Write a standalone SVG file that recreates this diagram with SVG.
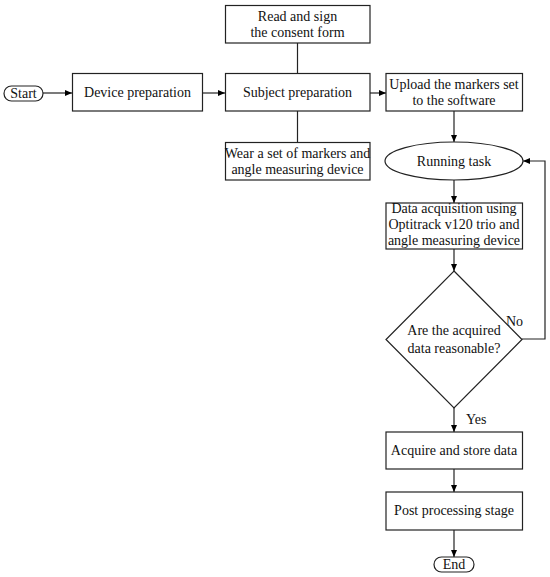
<svg xmlns="http://www.w3.org/2000/svg" width="550" height="577" viewBox="0 0 550 577">
<defs>
<marker id="ah" markerWidth="8" markerHeight="8" refX="7" refY="4" orient="auto" markerUnits="userSpaceOnUse">
<path d="M0,1 L7,4 L0,7 Z" fill="#000"/>
</marker>
<style>
.b{fill:#fff;stroke:#222;stroke-width:1.2}
.t{font-size:14px;fill:#111;text-anchor:middle}
.l{font-size:14px;fill:#111}
.c{fill:none;stroke:#222;stroke-width:1.2}
</style>
</defs>
<rect width="550" height="577" fill="#fff"/>
<g font-family="'Liberation Serif', serif">
<g id="connectors">
<line class="c" x1="43" y1="93" x2="72" y2="93" marker-end="url(#ah)"/>
<line class="c" x1="203" y1="93" x2="225" y2="93" marker-end="url(#ah)"/>
<line class="c" x1="297.5" y1="43" x2="297.5" y2="73"/>
<line class="c" x1="297.5" y1="111" x2="297.5" y2="142"/>
<line class="c" x1="370" y1="93" x2="386" y2="93" marker-end="url(#ah)"/>
<line class="c" x1="454" y1="111" x2="454" y2="142" marker-end="url(#ah)"/>
<line class="c" x1="454" y1="180" x2="454" y2="203" marker-end="url(#ah)"/>
<line class="c" x1="454" y1="249" x2="454" y2="271" marker-end="url(#ah)"/>
<polyline class="c" points="522,339 545,339 545,161 523,161" marker-end="url(#ah)"/>
<line class="c" x1="454" y1="408" x2="454" y2="432" marker-end="url(#ah)"/>
<line class="c" x1="454" y1="469" x2="454" y2="492" marker-end="url(#ah)"/>
<line class="c" x1="454" y1="530" x2="454" y2="557" marker-end="url(#ah)"/>
<text class="l" x="506" y="326">No</text>
<text class="l" x="466" y="424">Yes</text>
</g>
<g id="start">
<rect class="b" x="4" y="86" width="39" height="15" rx="7.5"/>
<text class="t" x="23.5" y="98">Start</text>
</g>
<g id="device">
<rect class="b" x="72.5" y="73.5" width="130" height="37.5"/>
<text class="t" x="137.5" y="97">Device preparation</text>
</g>
<g id="subject">
<rect class="b" x="225.5" y="73.5" width="144.5" height="37.5"/>
<text class="t" x="297.5" y="97">Subject preparation</text>
</g>
<g id="consent">
<rect class="b" x="225.5" y="5.5" width="144.5" height="37.5"/>
<text class="t" x="297.5" y="21">Read and sign</text>
<text class="t" x="297.5" y="37">the consent form</text>
</g>
<g id="wear">
<rect class="b" x="225.5" y="142.5" width="144.5" height="37.5"/>
<text class="t" x="297.5" y="158">Wear a set of markers and</text>
<text class="t" x="297.5" y="174">angle measuring device</text>
</g>
<g id="upload">
<rect class="b" x="386" y="73.5" width="136.5" height="37.5"/>
<text class="t" x="454" y="89">Upload the markers set</text>
<text class="t" x="454" y="105">to the software</text>
</g>
<g id="running">
<ellipse class="b" cx="454" cy="161" rx="69" ry="19"/>
<text class="t" x="454" y="166">Running task</text>
</g>
<g id="acquisition">
<rect class="b" x="386" y="203" width="136.5" height="46"/>
<text class="t" x="454" y="213">Data acquisition using</text>
<text class="t" x="454" y="229">Optitrack v120 trio and</text>
<text class="t" x="454" y="245">angle measuring device</text>
</g>
<g id="decision">
<polygon class="b" points="454,271 522,339.5 454,408 386,339.5"/>
<text class="t" x="454" y="335">Are the acquired</text>
<text class="t" x="454" y="353">data reasonable?</text>
</g>
<g id="store">
<rect class="b" x="386" y="432" width="136.5" height="37"/>
<text class="t" x="454" y="455">Acquire and store data</text>
</g>
<g id="post">
<rect class="b" x="386" y="492" width="136.5" height="38"/>
<text class="t" x="454" y="515">Post processing stage</text>
</g>
<g id="end">
<rect class="b" x="434" y="557" width="40" height="15" rx="7.5"/>
<text class="t" x="454" y="569">End</text>
</g>
</g>
</svg>
